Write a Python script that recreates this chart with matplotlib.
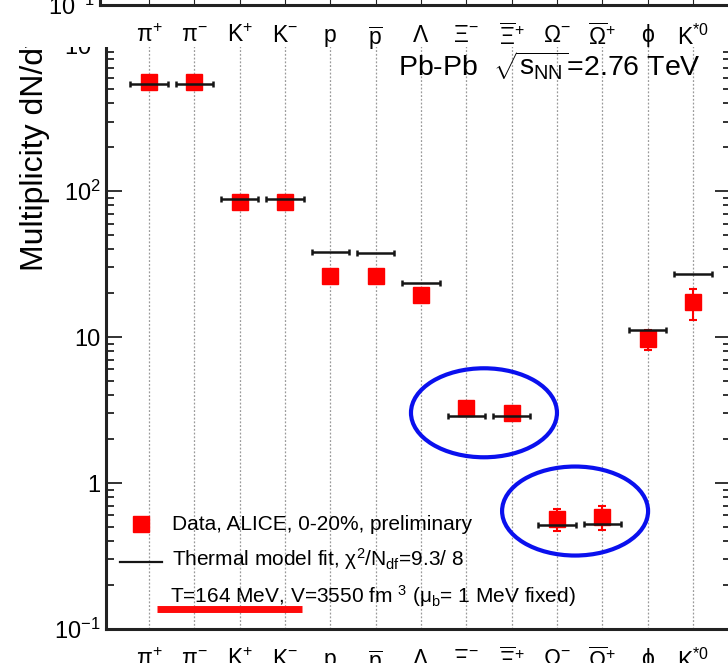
import numpy as np
import matplotlib
matplotlib.use("Agg")
import matplotlib.pyplot as plt
from matplotlib.lines import Line2D
from matplotlib.patches import Ellipse, Rectangle
from matplotlib.transforms import ScaledTranslation
from matplotlib.ticker import FixedLocator, FixedFormatter, LogLocator, NullFormatter, NullLocator

plt.rcParams['font.family'] = ['Liberation Sans', 'DejaVu Sans']
plt.rcParams['mathtext.fontset'] = 'custom'
plt.rcParams['mathtext.rm'] = 'Liberation Sans'
plt.rcParams['mathtext.it'] = 'Liberation Sans:italic'
plt.rcParams['mathtext.bf'] = 'Liberation Sans:bold'

# Teilchensorten und Multiplizitaeten (Pb-Pb, 0-20%)
teilchen = [r'π$^{+}$', r'π$^{-}$', r'K$^{+}$', r'K$^{-}$', 'p', r'$\overline{\rm p}$',
            'Λ', r'Ξ$^{-}$', r'$\overline{\rm Ξ}^{+}$', r'Ω$^{-}$', r'$\overline{\rm Ω}^{+}$',
            'ϕ', r'K$^{*0}$']
data_y = [558, 558, 84.5, 84.5, 26.2, 26.2, 19.3, 3.25, 3.03, 0.567, 0.588, 9.64, 17.3]
data_err = [40, 40, 6, 6, 2, 2, 1.5, 0.2, 0.2, 0.10, 0.11, 1.5, 4.2]
model_y = [538, 538, 87.8, 87.8, 38.2, 37.5, 23.5, 2.88, 2.88, 0.515, 0.52, 11.1, 27.0]
model_halfwidth = 0.41

y_ticks = [0.1, 1, 10, 100, 1000]
y_ticklabels = [r'10$^{-1}$', '1', '10', r'10$^{2}$', r'10$^{3}$']

# Hervorgehobene Gruppen (Mitte in Datenkoordinaten, Groesse in Zoll)
kreise = [(7.39, 3.03), (9.40, 0.643)]
kreis_w, kreis_h = 1.46, 0.89

W, H = 728, 663
fig = plt.figure(figsize=(W / 100, H / 100), dpi=100)

x = np.arange(len(teilchen))

# Hauptpanel
ax = fig.add_axes([106 / W, 34 / H, 625 / W, 613 / H], zorder=0)
ax.set_yscale('log')
ax.set_ylim(0.1, 10 ** 3.2)
ax.set_xlim(-0.949, 12.84)

ax.errorbar(x, data_y, yerr=data_err, fmt='s', color='red', ms=11, mec='red',
            ecolor='red', elinewidth=1.5, capsize=3, capthick=1.5, zorder=3)
ax.errorbar(x, model_y, xerr=model_halfwidth, fmt='none', ecolor='#151515',
            elinewidth=1.8, capsize=2.5, capthick=1.8, zorder=4)

ax.set_xticks(x)
ax.set_xticklabels(teilchen, fontsize=16.5)
ax.tick_params(axis='x', length=0, pad=14)
ax.grid(axis='x', color='#9a9a9a', ls=(0, (1.5, 1.5)), lw=0.9)
ax.set_axisbelow(True)

ax.yaxis.set_major_locator(FixedLocator(y_ticks))
ax.yaxis.set_major_formatter(FixedFormatter(y_ticklabels))
ax.yaxis.set_minor_locator(LogLocator(base=10, subs=np.arange(2, 10)))
ax.yaxis.set_minor_formatter(NullFormatter())
ax.tick_params(axis='y', which='both', direction='in', right=True, width=1.3, color='#222')
ax.tick_params(axis='y', which='major', length=11.5, labelsize=17, pad=4)
ax.tick_params(axis='y', which='minor', length=5.8)
for s in ax.spines.values():
    s.set_linewidth(2.2)
    s.set_color('#222')

ax.set_ylabel('Multiplicity dN/dy', fontsize=23)
ax.yaxis.set_label_coords(-0.089, 0.780)


def af(px, py):
    # Pixel -> Achsenbruchteil
    return (px - 106) / 625, (629 - py) / 613


ax.text(*af(398, 76), r'Pb-Pb  $\sqrt{{\rm s}_{\rm NN}}$=2.76 TeV', fontsize=20.5,
        va='baseline', ha='left', transform=ax.transAxes)

# Legende
ax.add_line(Line2D([af(141, 524)[0]], [af(141, 524)[1]], marker='s', ms=11, color='red',
                   ls='none', transform=ax.transAxes, clip_on=False))
ax.add_line(Line2D([af(120, 562)[0], af(162, 562)[0]], [af(120, 562)[1]] * 2, color='#151515',
                   lw=1.6, transform=ax.transAxes))
ax.text(*af(172, 530), 'Data, ALICE, 0-20%, preliminary', fontsize=15,
        va='baseline', transform=ax.transAxes)
ax.text(*af(172, 566), r'Thermal model fit, χ$^{2}$/N$_{\rm df}$=9.3/ 8', fontsize=15,
        va='baseline', transform=ax.transAxes)
ax.text(*af(170, 603), r'T=164 MeV, V=3550 fm $^{3}$ (μ$_{\rm b}$= 1 MeV fixed)', fontsize=15,
        va='baseline', transform=ax.transAxes)
ax.add_line(Line2D([af(157, 608.5)[0], af(302, 608.5)[0]], [af(157, 608.5)[1]] * 2,
                   color='#ff0a0a', lw=5, solid_capstyle='butt', transform=ax.transAxes, zorder=6))

for xc, yc in kreise:
    e = Ellipse((0, 0), kreis_w, kreis_h, fill=False, edgecolor='#0a10ee', lw=3,
                transform=fig.dpi_scale_trans + ScaledTranslation(xc, yc, ax.transData),
                clip_on=False, zorder=7)
    ax.add_artist(e)

# oberer Streifen: Unterkante des darueberliegenden Panels
fig.add_artist(Rectangle((0, 1 - 47 / H), 1, 47 / H, transform=fig.transFigure,
                         facecolor='white', edgecolor='none', zorder=1))
ax_top = fig.add_axes([100 / W, (H - 5) / H, 631 / W, 0.3], zorder=2)
ax_top.set_yscale('log')
ax_top.set_ylim(0.1, 10)
ax_top.set_xlim(-1.081, 12.84)
ax_top.set_xticks(x)
ax_top.set_xticklabels(teilchen, fontsize=16.5)
ax_top.tick_params(axis='x', direction='in', length=5, pad=14, color='#222')
ax_top.yaxis.set_major_locator(FixedLocator([0.1]))
ax_top.yaxis.set_major_formatter(FixedFormatter([r'10$^{-1}$']))
ax_top.yaxis.set_minor_locator(NullLocator())
ax_top.tick_params(axis='y', labelsize=17, pad=4, length=0)
for s in ax_top.spines.values():
    s.set_linewidth(2.2)
    s.set_color('#222')

fig.savefig('out.png', dpi=100)
